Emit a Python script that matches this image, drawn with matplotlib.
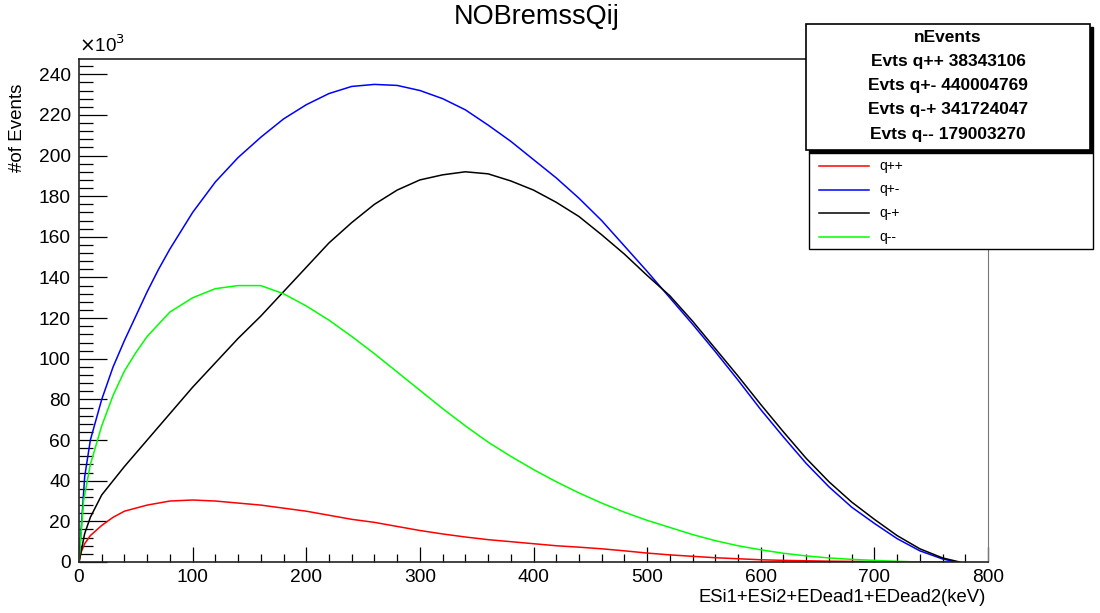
import matplotlib
matplotlib.use("Agg")
import matplotlib.pyplot as plt
from matplotlib.patches import Rectangle
from matplotlib.lines import Line2D
from matplotlib.ticker import MultipleLocator

plt.rcParams['font.family'] = ['Liberation Sans', 'DejaVu Sans']

# energies in keV, counts in units of 10^3
e_pp = [0, 2, 5, 10, 20, 30, 40, 60, 80, 100, 120, 140, 160, 180, 200, 220, 240, 260,
        280, 300, 320, 340, 360, 380, 400, 420, 440, 460, 480, 500, 520, 540, 560, 580,
        600, 620, 640, 660, 680, 700, 740, 770]
n_pp = [0, 5, 9, 13, 18, 22, 25, 28, 30, 30.5, 30, 29, 28, 26.5, 25, 23, 21, 19.5,
        17.5, 15.5, 13.8, 12.3, 11, 10, 9, 8, 7.3, 6.5, 5.5, 4.4, 3.5, 2.8, 2.1, 1.6,
        1.1, 0.8, 0.6, 0.4, 0.3, 0.2, 0.1, 0]

e_pm = [0, 5, 10, 20, 30, 40, 50, 60, 70, 80, 100, 120, 140, 160, 180, 200, 220, 240,
        260, 280, 300, 320, 340, 360, 380, 400, 420, 440, 460, 480, 500, 520, 540, 560,
        580, 600, 620, 640, 660, 680, 700, 720, 740, 760, 772]
n_pm = [0, 42, 60, 80, 96, 109, 121, 133, 144, 154, 172, 187, 199, 209, 218, 225, 230.5, 234,
        235, 234.5, 232, 228, 222.5, 215, 207, 198, 189, 179, 168, 155.5, 143, 130, 117, 103.5,
        89.5, 75, 61.5, 48.5, 37, 27, 19, 11.5, 5.5, 1.5, 0]

e_mp = [0, 5, 10, 20, 30, 40, 60, 80, 100, 120, 140, 160, 180, 200, 220, 240, 260, 280,
        300, 320, 340, 360, 380, 400, 420, 440, 460, 480, 500, 520, 540, 560, 580, 600,
        620, 640, 660, 680, 700, 720, 740, 760, 775]
n_mp = [0, 14, 22, 33, 40, 47, 60, 73, 86, 98, 110, 121, 133, 145, 157, 167, 176, 183,
        188, 190.5, 192, 191, 187.5, 183, 177, 170, 161, 151.5, 141, 131, 118.5, 105, 91.5, 77.5,
        64, 51, 39.5, 29.5, 21, 13, 6.5, 2, 0]

e_mm = [0, 4, 10, 20, 30, 40, 50, 60, 80, 100, 120, 140, 160, 180, 200, 220, 240, 260,
        280, 300, 320, 340, 360, 380, 400, 420, 440, 460, 480, 500, 520, 540, 560, 580,
        600, 620, 640, 660, 680, 700, 720, 740]
n_mm = [0, 30, 48, 67, 82, 94, 103, 111, 123, 130, 134.5, 136, 136, 132, 126, 119, 111, 102.5,
        93.5, 84.5, 75.5, 67, 59, 52, 45.5, 39.5, 34, 29, 24.5, 20.5, 17, 13.5, 10.5, 8,
        6, 4.3, 3, 2, 1.3, 0.8, 0.3, 0]

labels = ['q++', 'q+-', 'q-+', 'q--']
colors = ['#ff0000', '#0000ff', '#000000', '#00ff00']
totals = [38343106, 440004769, 341724047, 179003270]

W, H = 1100, 613
fig = plt.figure(figsize=(W / 100, H / 100), dpi=100)


def fx(px):
    return px / W


def fy(py):
    return 1 - py / H


ax = fig.add_axes([fx(79), fy(562), fx(988) - fx(79), fy(59) - fy(562)])

series = [(e_pp, n_pp), (e_pm, n_pm), (e_mp, n_mp), (e_mm, n_mm)]
for (e, n), col in zip(series, colors):
    ax.plot(e, n, color=col, lw=1.1)

ax.set_xlim(0, 800)
ax.set_ylim(0, 247.5)
ax.xaxis.set_major_locator(MultipleLocator(100))
ax.xaxis.set_minor_locator(MultipleLocator(20))
ax.yaxis.set_major_locator(MultipleLocator(20))
ax.yaxis.set_minor_locator(MultipleLocator(4))
ax.tick_params(axis='y', which='major', direction='in', length=20, width=0.9, pad=6, labelsize=13.8)
ax.tick_params(axis='y', which='minor', direction='in', length=10, width=0.9)
ax.tick_params(axis='x', which='major', direction='in', length=11, width=0.9, pad=5, labelsize=13.8)
ax.tick_params(axis='x', which='minor', direction='in', length=5.5, width=0.9)
for s in ['left', 'bottom', 'top']:
    ax.spines[s].set_linewidth(1.2)
    ax.spines[s].set_color('#222222')
ax.spines['right'].set_linewidth(0.8)
ax.spines['right'].set_color('#777777')

fig.text(fx(79), fy(56), r'$\times$10$^{3}$', fontsize=13.5, ha='left', va='bottom')
fig.text(fx(537), fy(17), 'NOBremssQij', fontsize=19.5, ha='center', va='center')
fig.text(fx(18), fy(84), '#of Events', fontsize=13.5, rotation=90, ha='center', va='top')
fig.text(fx(986), fy(598), 'ESi1+ESi2+EDead1+EDead2(keV)', fontsize=13.3, ha='right', va='center')

# stats box with shadow
fig.add_artist(Rectangle((fx(809), fy(153)), fx(1093) - fx(809), fy(27) - fy(153),
                         transform=fig.transFigure, facecolor='black', edgecolor='black'))
fig.add_artist(Rectangle((fx(806), fy(150)), fx(1090) - fx(806), fy(24) - fy(150),
                         transform=fig.transFigure, facecolor='white', edgecolor='black', lw=1.2))
stat_lines = ['nEvents'] + ['Evts %s %d' % (l, t) for l, t in zip(labels, totals)]
for i, txt in enumerate(stat_lines):
    fig.text(fx(948), fy(37 + 24.3 * i), txt, fontsize=12.5, fontweight='bold', ha='center', va='center')

# legend box
fig.add_artist(Rectangle((fx(809), fy(249)), fx(1093) - fx(809), fy(153) - fy(249),
                         transform=fig.transFigure, facecolor='white', edgecolor='black', lw=1.0))
for i, (l, col) in enumerate(zip(labels, colors)):
    yy = fy(166 + 23.5 * i)
    fig.add_artist(Line2D([fx(819), fx(869)], [yy, yy], transform=fig.transFigure, color=col, lw=1.1))
    fig.text(fx(879), yy, l, fontsize=10, ha='left', va='center')

fig.savefig('out.png', dpi=100)
